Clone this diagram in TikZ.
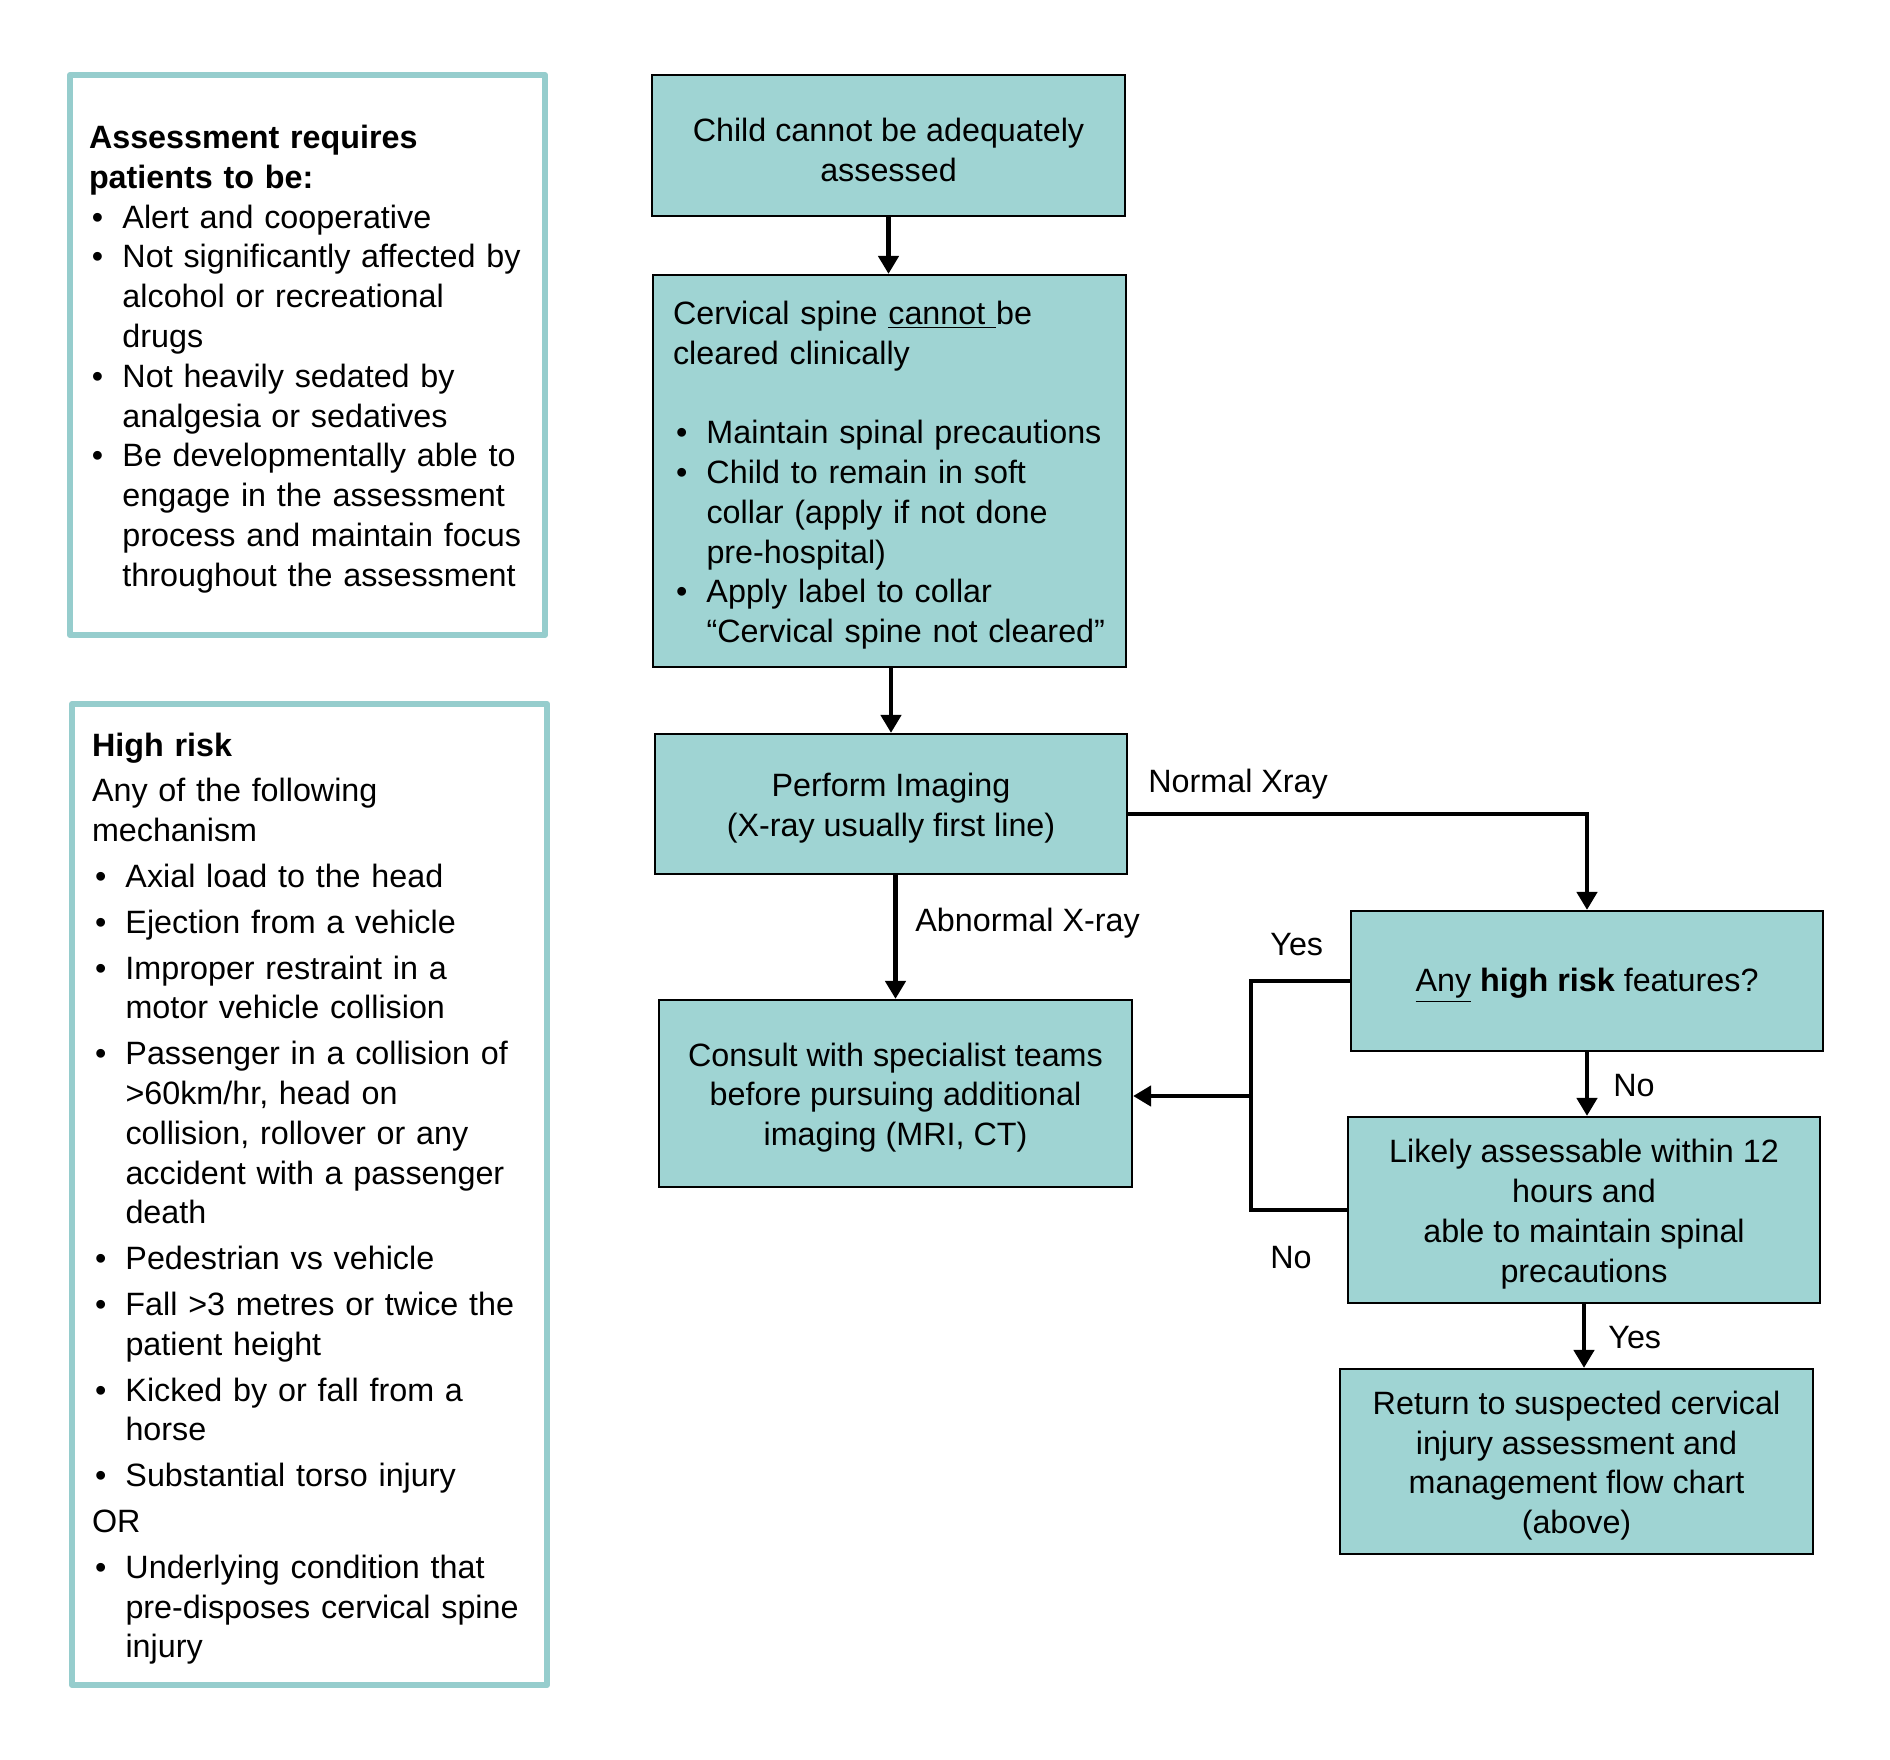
\documentclass[tikz,border=0pt]{standalone}
\usepackage{fontspec}
\setmainfont{Liberation Sans}
\usetikzlibrary{arrows.meta,calc}
\definecolor{boxfill}{RGB}{159,212,211}
\definecolor{sideline}{RGB}{150,205,205}
\newcommand\bodyfont{\fontsize{16.15pt}{19.9pt}\selectfont}
\newcommand\bul{\makebox[16.75pt][l]{\hspace{1.5pt}•}}
\newcommand\ind{\hspace*{16.75pt}}
\newcommand\myl[1]{\mbox{#1}}
\newcommand\tstr{\rule{0pt}{15.8pt}}
\tikzset{
  flow/.style={draw=black, line width=1.1pt, fill=boxfill, align=center, inner sep=0pt, font=\bodyfont},
  side/.style={draw=sideline, line width=3pt, fill=white, align=left, inner sep=0pt, font=\bodyfont, line join=round},
  conn/.style={line width=2.3pt, -{Triangle[width=10pt,length=9pt]}},
  plainline/.style={line width=2.3pt},
  lbl/.style={font=\bodyfont, inner sep=0pt, anchor=west},
}
\begin{document}
\begin{tikzpicture}[x=0.5pt,y=-0.5pt]
\fill[white] (0,0) rectangle (1890,1760);
\useasboundingbox (0,0) rectangle (1890,1760);

% side boxes
\node[side, minimum width=237.5pt, minimum height=280pt, text width=218.5pt] (assess) at (307.5,355) {%
\tstr\textbf{Assessment requires}\\
\textbf{patients to be:}\\
\myl{\bul Alert and cooperative}\\
\myl{\bul Not significantly affected by}\\
\myl{\ind alcohol or recreational}\\
\myl{\ind drugs}\\
\myl{\bul Not heavily sedated by}\\
\myl{\ind analgesia or sedatives}\\
\myl{\bul Be developmentally able to}\\
\myl{\ind engage in the assessment}\\
\myl{\ind process and maintain focus}\\
\myl{\ind throughout the assessment}};

\node[side, minimum width=237.5pt, minimum height=490.5pt, text width=217.5pt] (risk) at (309.5,1194.5) {%
\tstr\textbf{High risk}\\[3pt]
Any of the following\\
mechanism\\[3pt]
\myl{\bul Axial load to the head}\\[3pt]
\myl{\bul Ejection from a vehicle}\\[3pt]
\myl{\bul Improper restraint in a}\\
\myl{\ind motor vehicle collision}\\[3pt]
\myl{\bul Passenger in a collision of}\\
\myl{\ind >60km/hr, head on}\\
\myl{\ind collision, rollover or any}\\
\myl{\ind accident with a passenger}\\
\myl{\ind death}\\[3pt]
\myl{\bul Pedestrian vs vehicle}\\[3pt]
\myl{\bul Fall >3 metres or twice the}\\
\myl{\ind patient height}\\[3pt]
\myl{\bul Kicked by or fall from a}\\
\myl{\ind horse}\\[3pt]
\myl{\bul Substantial torso injury}\\[3pt]
OR\\[3pt]
\myl{\bul Underlying condition that}\\
\myl{\ind pre-disposes cervical spine}\\
\myl{\ind injury}};

% flow boxes
\node[flow, minimum width=236.5pt, minimum height=70.5pt] (A) at (888.5,145.5) {\tstr Child cannot be adequately\\assessed};

\node[flow, minimum width=236.5pt, minimum height=196pt, align=left, text width=216.5pt] (B) at (889.5,471) {%
\myl{\tstr Cervical spine \underline{cannot\ }be}\\
\myl{cleared clinically}\\[19.9pt]
\myl{\bul Maintain spinal precautions}\\
\myl{\bul Child to remain in soft}\\
\myl{\ind collar (apply if not done}\\
\myl{\ind pre-hospital)}\\
\myl{\bul Apply label to collar}\\
\myl{\ind “Cervical spine not cleared”}};

\node[flow, minimum width=236pt, minimum height=70pt] (C) at (891,804) {\tstr Perform Imaging\\(X-ray usually first line)};

\node[flow, minimum width=236.5pt, minimum height=93.5pt] (D) at (895.5,1093.5) {\tstr Consult with specialist teams\\before pursuing additional\\imaging (MRI, CT)};

\node[flow, minimum width=236pt, minimum height=70pt] (E) at (1587,981) {\tstr\underline{Any} \textbf{high risk} features?};

\node[flow, minimum width=236pt, minimum height=93pt] (F) at (1584,1210) {\tstr Likely assessable within 12\\hours and\\able to maintain spinal\\precautions};

\node[flow, minimum width=236.5pt, minimum height=92.5pt] (G) at (1576.5,1461.5) {\tstr Return to suspected cervical\\injury assessment and\\management flow chart\\(above)};

% connectors
\draw[conn] (A.south) -- (A.south |- B.north);
\draw[conn] (B.south -| C.north) -- (C.north);
\draw[conn] (C.south -| D.north) -- (D.north);
\coordinate (cout) at ($(C.east)+(0,10)$);
\draw[conn] (cout) -| (E.north);
\draw[conn] (E.south) -- (E.south |- F.north);
\draw[conn] (F.south) -- (F.south |- G.north);
\coordinate (jx) at (1251,0);
\draw[plainline] (E.west) -- (E.west -| jx) -- (F.west -| jx) -- (F.west);
\coordinate (jn) at (1251,1096);
\draw[conn] (jn) -- (jn -| D.east);

% labels
\node[lbl] (lnormal) at (1148,784) {Normal Xray};
\node[lbl] (labn) at (915,923) {Abnormal X-ray};
\node[lbl] (lyes1) at (1270,945) {Yes};
\node[lbl] (lno1) at (1270,1258) {No};
\node[lbl] (lno2) at (1613,1086) {No};
\node[lbl] (lyes2) at (1608,1338) {Yes};
\end{tikzpicture}
\end{document}
